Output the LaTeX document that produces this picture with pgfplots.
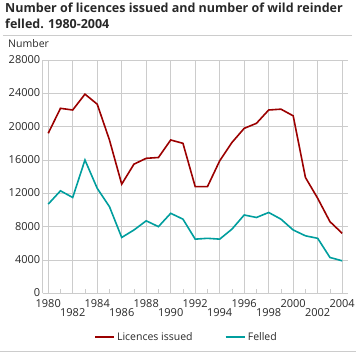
\documentclass[border=0pt]{standalone}
\usepackage{fontspec}
\setmainfont{Open Sans}
\usepackage{pgfplots}
\pgfplotsset{compat=1.18}
\definecolor{lic}{RGB}{155,0,0}
\definecolor{fel}{RGB}{0,158,158}
\definecolor{gridc}{RGB}{204,204,204}
\definecolor{txt}{RGB}{40,40,40}
\begin{document}
\begin{tikzpicture}
\useasboundingbox (0pt,0pt) rectangle (356pt,-353pt);
\node[anchor=north west, align=left, font=\fontsize{12.5}{15.5}\selectfont\bfseries, inner sep=0pt, text=txt] at (5pt,-3pt) {Number of licences issued and number of wild reinder\\felled. 1980-2004};
\draw[gridc, line width=0.8pt] (3pt,-35pt) -- (352pt,-35pt);
\node[anchor=west, font=\fontsize{10.5}{12}\selectfont, inner sep=0pt, text=txt] at (8pt,-44pt) {Number};
\begin{axis}[
  at={(42.7pt,-293.3pt)}, anchor=south west,
  scale only axis, width=305pt, height=233.3pt,
  xmin=1979.55, xmax=2004.45, ymin=0, ymax=28000,
  ytick={0,4000,...,28000},
  scaled y ticks=false,
  xtick={1980,1984,...,2004},
  extra x ticks={1982,1986,...,2002},
  extra x tick style={xticklabel style={yshift=-9.5pt}},
  minor xtick={1981,1983,...,2003},
  minor tick length=4pt, major tick length=0pt,
  tick align=inside,
  xmajorgrids, ymajorgrids,
  grid style={gridc, line width=0.8pt},
  axis x line*=bottom, axis y line*=left,
  axis line style={gridc, line width=0.8pt, -},
  minor tick style={gridc, line width=0.8pt},
  major tick style={draw=none},
  /pgf/number format/.cd, 1000 sep={}, assume math mode=true,
  /pgfplots/.cd,
  ticklabel style={font=\fontsize{11}{12}\selectfont, text=txt},
  xticklabel style={yshift=-2.5pt},
  yticklabel style={xshift=1pt, yshift=0.5pt},
  legend style={at={(0.471,-0.19)}, anchor=center, draw=none, fill=none,
    legend columns=2, font=\fontsize{10.5}{12}\selectfont, text=txt,
    /tikz/every even column/.append style={column sep=30pt}},
  legend image code/.code={\draw[#1, line width=2.2pt] (0pt,0.3pt) -- (19pt,0.3pt);},
]
\addplot[lic, line width=1.6pt] coordinates {
(1980,19200) (1981,22200) (1982,22000) (1983,23900) (1984,22700) (1985,18400)
(1986,13100) (1987,15500) (1988,16200) (1989,16300) (1990,18400) (1991,18000)
(1992,12800) (1993,12800) (1994,15900) (1995,18100) (1996,19800) (1997,20400)
(1998,22000) (1999,22100) (2000,21300) (2001,13900) (2002,11400) (2003,8600)
(2004,7200)};
\addlegendentry{Licences issued}
\addplot[fel, line width=1.6pt] coordinates {
(1980,10700) (1981,12300) (1982,11500) (1983,16000) (1984,12600) (1985,10400)
(1986,6700) (1987,7600) (1988,8700) (1989,8000) (1990,9600) (1991,8900)
(1992,6500) (1993,6600) (1994,6500) (1995,7700) (1996,9400) (1997,9100)
(1998,9700) (1999,8900) (2000,7600) (2001,6900) (2002,6600) (2003,4300)
(2004,3900)};
\addlegendentry{Felled}
\end{axis}
\draw[gridc, line width=0.8pt] (0pt,-351pt) -- (356pt,-351pt);
\end{tikzpicture}
\end{document}
